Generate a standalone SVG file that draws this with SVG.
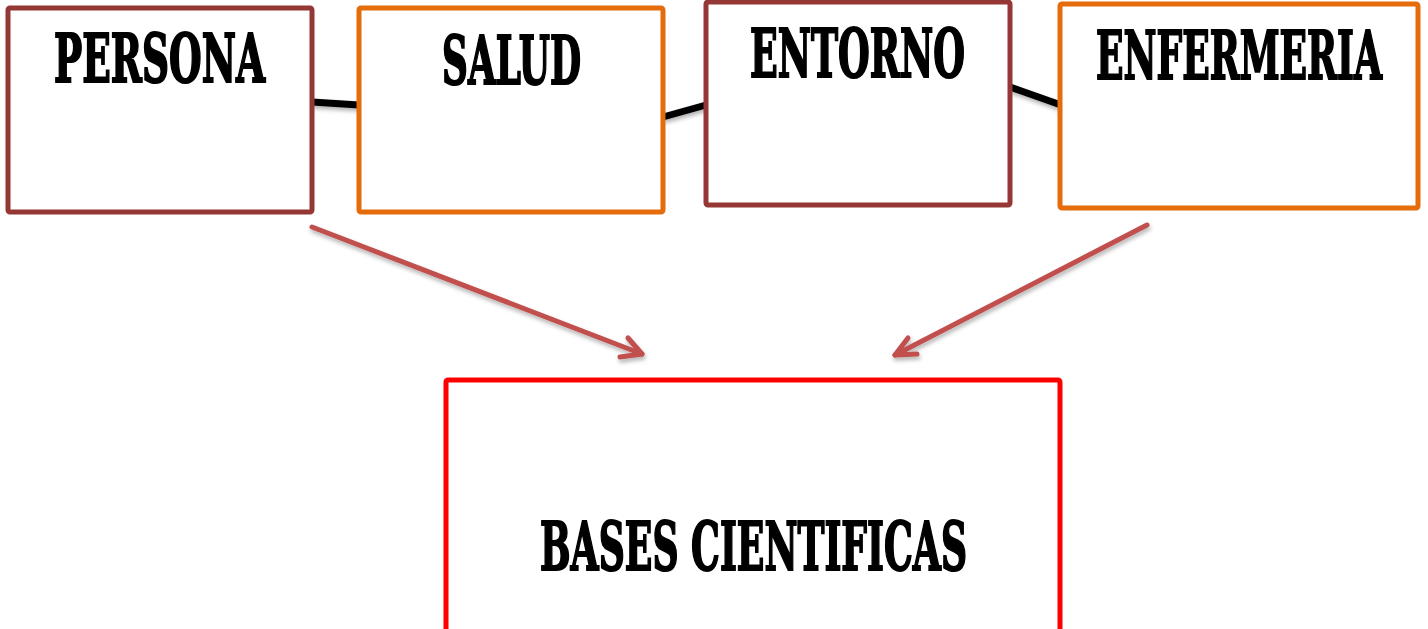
<svg xmlns="http://www.w3.org/2000/svg" width="1428" height="629" viewBox="0 0 1428 629">
<defs>
<filter id="sh" x="-10%" y="-10%" width="120%" height="140%">
<feDropShadow dx="1" dy="3" stdDeviation="2" flood-color="#000" flood-opacity="0.3"/>
</filter>
</defs>
<style>
.box{fill:#fff;stroke-width:5;}
.dr{stroke:#953735;}
.or{stroke:#E46C0A;}
.rd{stroke:#FF0000;}
.lbl{font-family:"DejaVu Serif Condensed","DejaVu Serif","Liberation Serif",serif;font-weight:bold;font-size:68px;fill:#000;stroke:#000;stroke-width:2;}
.con{stroke:#000;stroke-width:7;fill:none;}
.arr{stroke:#C0504D;stroke-width:5;fill:none;stroke-linecap:round;stroke-linejoin:round;}
</style>
<rect width="1428" height="629" fill="#fff"/>
<g id="connectors">
<g filter="url(#sh)">
<line class="con" x1="312" y1="102" x2="359" y2="105"/>
<line class="con" x1="663" y1="117" x2="706" y2="105"/>
<line class="con" x1="1010" y1="87" x2="1061" y2="105"/>
</g>
<g filter="url(#sh)">
<line class="arr" x1="312" y1="227" x2="642" y2="354"/>
<polyline class="arr" points="628,338 642,354 620,357"/>
<line class="arr" x1="1147" y1="225" x2="895" y2="355"/>
<polyline class="arr" points="908,338 895,355 917,354"/>
</g>
</g>
<g id="persona">
<rect class="box dr" x="8" y="8" width="304" height="204" rx="2"/>
<text class="lbl" transform="translate(54,82) scale(0.6,1)" x="0" y="0" textLength="351.7" lengthAdjust="spacingAndGlyphs">PERSONA</text>
</g>
<g id="salud">
<rect class="box or" x="359" y="8" width="304" height="204" rx="2"/>
<text class="lbl" transform="translate(442,84) scale(0.6,1)" x="0" y="0" textLength="231.7" lengthAdjust="spacingAndGlyphs">SALUD</text>
</g>
<g id="entorno">
<rect class="box dr" x="706" y="2" width="304" height="203" rx="2"/>
<text class="lbl" transform="translate(750,77) scale(0.6,1)" x="0" y="0" textLength="358.3" lengthAdjust="spacingAndGlyphs">ENTORNO</text>
</g>
<g id="enfermeria">
<rect class="box or" x="1060" y="4" width="358" height="204" rx="2"/>
<text class="lbl" transform="translate(1096,79) scale(0.6,1)" x="0" y="0" textLength="476.7" lengthAdjust="spacingAndGlyphs">ENFERMERIA</text>
</g>
<g id="bases">
<rect class="box rd" x="446" y="380" width="614" height="280" rx="2"/>
<text class="lbl" transform="translate(540,570) scale(0.6,1)" x="0" y="0" textLength="711.7" lengthAdjust="spacingAndGlyphs">BASES CIENTIFICAS</text>
</g>
</svg>
